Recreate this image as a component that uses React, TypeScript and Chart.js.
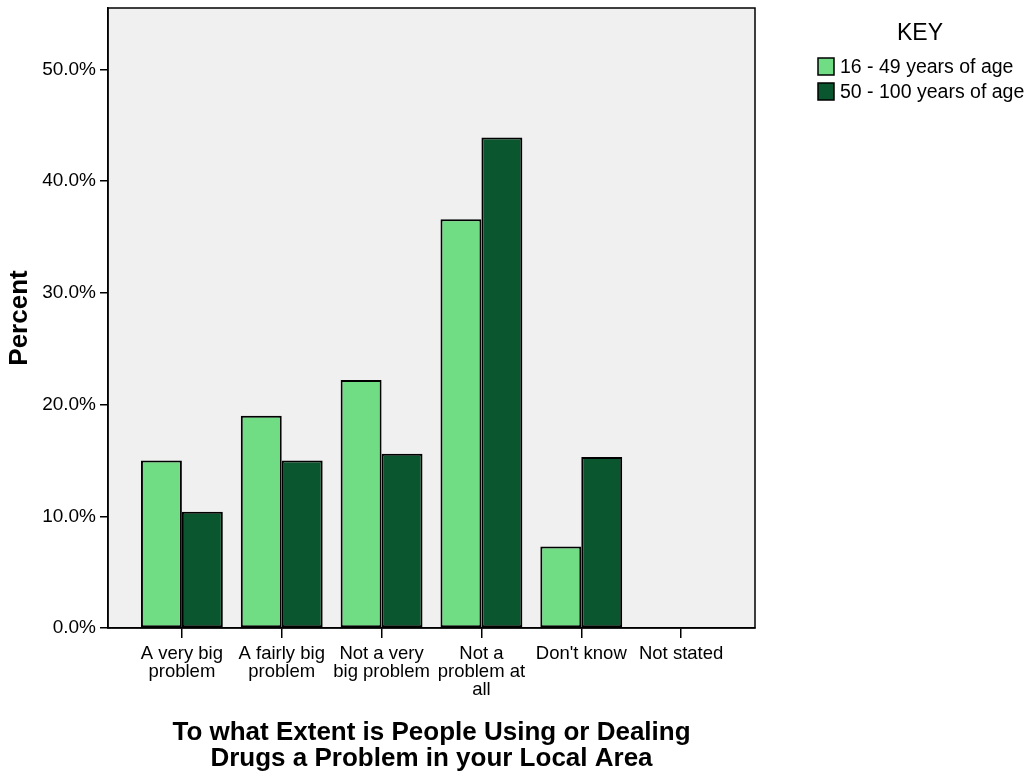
import React, { useEffect, useRef } from "react";
import { Chart, registerables } from "chart.js";

Chart.register(...registerables);

const categories: (string | string[])[] = [
  ["A very big", "problem"],
  ["A fairly big", "problem"],
  ["Not a very", "big problem"],
  ["Not a", "problem at", "all"],
  "Don't know",
  "Not stated",
];
const seriesNames = ["16 - 49 years of age", "50 - 100 years of age"];
const young = [15.0, 19.0, 22.2, 36.6, 7.3, 0];
const old = [10.4, 15.0, 15.6, 43.9, 15.3, 0];
const colors = ["#70dc84", "#0a562e"];
const yTicks = [0, 10, 20, 30, 40, 50];

const FONT = "'Liberation Sans', Arial, sans-serif";

const bgPlugin = {
  id: "bgPlugin",
  beforeDraw(chart: any) {
    const { ctx, chartArea: a } = chart;
    ctx.save();
    ctx.fillStyle = "#f0f0f0";
    ctx.fillRect(a.left, a.top, a.right - a.left, a.bottom - a.top);
    ctx.restore();
  },
  afterDraw(chart: any) {
    const { ctx, chartArea: a } = chart;
    ctx.save();
    ctx.strokeStyle = "#000";
    ctx.lineWidth = 1.5;
    ctx.strokeRect(a.left, a.top, a.right - a.left, a.bottom - a.top);
    // legend
    ctx.fillStyle = "#000";
    ctx.font = `23px ${FONT}`;
    ctx.textAlign = "center";
    ctx.textBaseline = "middle";
    ctx.fillText("KEY", 920, 34);
    ctx.font = `19.5px ${FONT}`;
    ctx.textAlign = "left";
    seriesNames.forEach((n, i) => {
      const y = 58 + i * 25;
      ctx.fillStyle = colors[i];
      ctx.fillRect(818, y, 16, 17);
      ctx.strokeStyle = "#000";
      ctx.lineWidth = 1.5;
      ctx.strokeRect(818, y, 16, 17);
      ctx.fillStyle = "#000";
      ctx.fillText(n, 840, y + 9.5);
    });
    ctx.restore();
  },
};

export default function App() {
  const ref = useRef<HTMLCanvasElement>(null);
  useEffect(() => {
    if (!ref.current) return;
    const chart = new Chart(ref.current, {
      type: "bar",
      data: {
        labels: categories,
        datasets: [
          {
            label: seriesNames[0],
            data: young,
            backgroundColor: colors[0],
            borderColor: "#000",
            borderWidth: 2,
            borderSkipped: false,
          },
          {
            label: seriesNames[1],
            data: old,
            backgroundColor: colors[1],
            borderColor: "#000",
            borderWidth: 2,
            borderSkipped: false,
          },
        ],
      },
      options: {
        animation: false,
        responsive: false,
        layout: { padding: { left: 0, top: 8, right: 277, bottom: 0 } },
        datasets: { bar: { categoryPercentage: 0.82, barPercentage: 1 } },
        plugins: { legend: { display: false }, tooltip: { enabled: false } },
        scales: {
          x: {
            offset: true,
            grid: { offset: false, drawOnChartArea: false, drawTicks: true, tickLength: 10, color: "#000", lineWidth: 1.5 },
            border: { display: true, color: "#000", width: 1.5 },
            ticks: { color: "#000", font: { family: FONT, size: 18.5, lineHeight: 0.98 }, padding: 7, maxRotation: 0, autoSkip: false },
            afterBuildTicks: (s: any) => {
              s._startValue = -0.74;
              s._valueRange = 6.48;
            },
            title: {
              display: true,
              text: ["To what Extent is People Using or Dealing", "Drugs a Problem in your Local Area"],
              color: "#000",
              font: { family: FONT, size: 26, weight: "bold", lineHeight: 1.0 },
              padding: { top: 0, bottom: 3 },
            },
            afterFit: (s: any) => { s.height = 147; s.paddingLeft = 0; s.paddingRight = 0; },
          },
          y: {
            min: 0,
            max: 55.5,
            grid: { drawOnChartArea: false, drawTicks: true, tickLength: 8, color: "#000", lineWidth: 1.5 },
            border: { display: true, color: "#000", width: 1.5 },
            afterBuildTicks: (s: any) => { s.ticks = yTicks.map((v) => ({ value: v })); },
            ticks: {
              color: "#000",
              font: { family: FONT, size: 19 },
              padding: 4,
              callback: (v: any) => Number(v).toFixed(1) + "%",
            },
            title: {
              display: true,
              text: "Percent",
              color: "#000",
              font: { family: FONT, size: 26, weight: "bold", lineHeight: 1.0 },
              padding: { top: 7, bottom: 0 },
            },
            afterFit: (s: any) => { s.width = 108; s.paddingTop = 0; s.paddingBottom = 0; },
          },
        },
      },
      plugins: [bgPlugin],
    } as any);
    return () => chart.destroy();
  }, []);
  return (
    <div style={{ position: "fixed", left: 0, top: 0, width: 1032, height: 775, background: "#fff" }}>
      <canvas ref={ref} width={1032} height={775} style={{ width: 1032, height: 775 }} />
    </div>
  );
}
